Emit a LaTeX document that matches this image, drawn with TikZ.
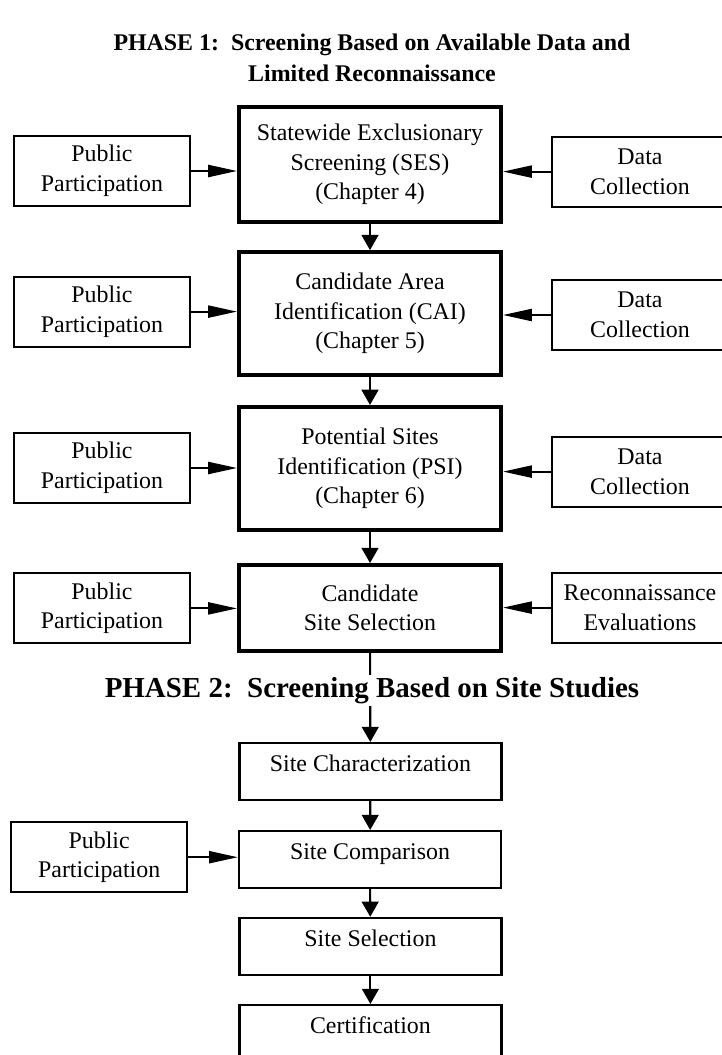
\documentclass[tikz,border=0pt]{standalone}
\usepackage{fontspec}
\setmainfont{Liberation Serif}
\usetikzlibrary{arrows.meta}

\begin{document}
\begin{tikzpicture}[
        every node/.style={font=\fontsize{17}{21}\selectfont},
        phase/.style={font=\fontsize{17}{22}\selectfont\bfseries, align=center},
        screen/.style={draw, line width=2.8pt, minimum width=6.55cm, align=center},
        study/.style={draw, line width=1.6pt, minimum width=6.55cm, minimum height=1.425cm, text height=0.45cm, text depth=0.45cm},
        input/.style={draw, line width=1.4pt, minimum width=4.4cm, minimum height=1.75cm, align=center},
        feed/.style={line width=1.5pt, -{Triangle[length=0.72cm, width=0.3cm]}},
        flow/.style={line width=1.5pt, -{Triangle[length=0.38cm, width=0.42cm]}}
    ]
        \useasboundingbox (0,0) rectangle (18.05,-26.375);
        \node[phase] (title1) at (9.3, -1.44) {PHASE 1:\ \ Screening Based on Available Data and\\ Limited Reconnaissance};
        \node[screen, minimum height=2.875cm] (ses) at (9.25, -4.11)  {Statewide Exclusionary\\ Screening (SES)\\ (Chapter 4)};
        \node[screen, minimum height=3.075cm] (cai) at (9.25, -7.84)  {Candidate Area\\ Identification (CAI)\\ (Chapter 5)};
        \node[screen, minimum height=3.075cm] (psi) at (9.25, -11.71) {Potential Sites\\ Identification (PSI)\\ (Chapter 6)};
        \node[screen, minimum height=2.15cm]  (css) at (9.25, -15.2)  {Candidate\\ Site Selection};
        \node[input] (pp1) at (2.55, -4.275) {Public\\ Participation};
        \node[input] (pp2) at (2.55, -7.79)  {Public\\ Participation};
        \node[input] (pp3) at (2.55, -11.7)  {Public\\ Participation};
        \node[input] (pp4) at (2.55, -15.21) {Public\\ Participation};
        \node[input] (dc1) at (16.0, -4.29)  {Data\\ Collection};
        \node[input] (dc2) at (16.0, -7.875) {Data\\ Collection};
        \node[input] (dc3) at (16.0, -11.79) {Data\\ Collection};
        \node[input] (rec) at (16.0, -15.19) {Reconnaissance\\ Evaluations};
        \node[study] (char) at (9.26, -19.29) {Site Characterization};
        \node[study] (comp) at (9.25, -21.49) {Site Comparison};
        \node[study] (sel)  at (9.26, -23.66) {Site Selection};
        \node[study] (cert) at (9.26, -25.84) {Certification};
        \node[input] (pp5) at (2.48, -21.43) {Public\\ Participation};
        \draw[feed] (pp1) -- (pp1 -| ses.west);
        \draw[feed] (pp2) -- (pp2 -| cai.west);
        \draw[feed] (pp3) -- (pp3 -| psi.west);
        \draw[feed] (pp4) -- (pp4 -| css.west);
        \draw[feed] (dc1) -- (dc1 -| ses.east);
        \draw[feed] (dc2) -- (dc2 -| cai.east);
        \draw[feed] (dc3) -- (dc3 -| psi.east);
        \draw[feed] (rec) -- (rec -| css.east);
        \draw[feed] (pp5) -- (pp5 -| comp.west);
        \draw[flow] (ses)  -- (cai);
        \draw[flow] (cai)  -- (psi);
        \draw[flow] (psi)  -- (css);
        \draw[flow] (css)  -- (char);
        \draw[flow] (char) -- (comp);
        \draw[flow] (comp) -- (sel);
        \draw[flow] (sel)  -- (cert);
        \node[phase, font=\fontsize{20.6}{24}\selectfont\bfseries, fill=white, inner sep=1.5pt, anchor=base] (title2) at (9.3, -17.425) {PHASE 2:\ \ Screening Based on Site Studies};
    \end{tikzpicture}
\end{document}
